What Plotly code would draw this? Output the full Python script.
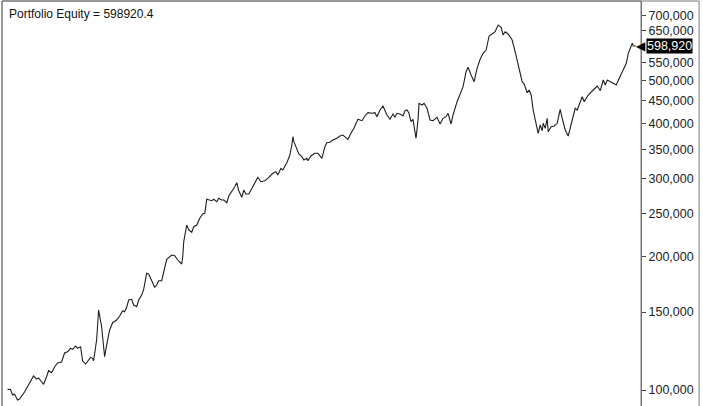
"""
Portfolio equity curve on a log scale, right-hand price axis
"""

import math
import plotly.graph_objects as go

# bar number (weekly bars) and closing equity
bar = [
    0, 3, 5, 7, 10, 12, 17, 22, 26, 29,
    31, 34, 36, 39, 41, 44, 47, 50, 54, 57,
    60, 63, 65, 68, 70, 73, 75, 78, 80, 83,
    85, 86, 89, 91, 94, 97, 99, 102, 105, 107,
    109, 112, 115, 117, 119, 121, 124, 126, 129, 131,
    134, 136, 139, 141, 144, 147, 149, 151, 154, 156,
    159, 164, 167, 170, 174, 175, 176, 179, 181, 184,
    186, 189, 192, 195, 197, 199, 201, 204, 206, 209,
    211, 214, 216, 219, 221, 224, 227, 229, 231, 234,
    236, 238, 241, 245, 248, 250, 253, 257, 260, 265,
    268, 270, 273, 275, 279, 282, 284, 285, 286, 289,
    291, 294, 296, 299, 300, 303, 305, 307, 310, 314,
    317, 319, 322, 325, 329, 332, 335, 337, 340, 343,
    346, 350, 354, 357, 360, 364, 367, 369, 372, 375,
    377, 379, 382, 385, 387, 389, 392, 395, 397, 399,
    401, 403, 405, 406, 408, 410, 411, 414, 416, 419,
    422, 425, 429, 432, 435, 438, 440, 443, 445, 449,
    452, 455, 458, 460, 463, 466, 469, 472, 475, 478,
    481, 485, 487, 490, 493, 495, 497, 500, 504, 507,
    510, 514, 516, 519, 521, 523, 525, 528, 530, 532,
    534, 535, 537, 539, 540, 543, 546, 549, 552, 554,
    557, 560, 563, 567, 569, 574, 576, 580, 585, 589,
    592, 595, 597, 599, 604, 608, 611, 615, 618, 620,
    624, 625, 628,
]

equity = [
    100360, 100300, 97430, 97940, 94930, 95430, 98970, 103710, 107560, 105890,
    106440, 104410, 103010, 107160, 110560, 109420, 112710, 115080, 115680, 121230,
    122050, 124230, 123580, 125720, 124230, 125260, 116290, 114480, 116290, 118540,
    117930, 116470, 129710, 151620, 139000, 118910, 126380, 136640, 141920, 142660,
    143930, 146960, 151070, 150290, 153760, 159710, 160290, 155610, 154240, 159710,
    163920, 168860, 183520, 182850, 177230, 170620, 172680, 176590, 176590, 186000,
    197380, 201840, 201110, 196660, 192620, 200070, 216300, 235940, 229880, 227150,
    233860, 235940, 244310, 249830, 250740, 269690, 268710, 267730, 269690, 266340,
    271100, 268710, 268710, 264960, 274360, 280570, 287960, 294020, 282030, 272510,
    283060, 277230, 277230, 287960, 298170, 302390, 295550, 297090, 300820, 308750,
    311340, 306030, 316890, 314100, 326260, 339600, 357730, 373520, 363930, 349810,
    341370, 336610, 330880, 333820, 329680, 337830, 339600, 342610, 342610, 333820,
    354580, 362040, 363000, 367160, 370420, 374880, 376830, 373520, 368500, 380180,
    390200, 408910, 405940, 415990, 423190, 421870, 423190, 414480, 429180, 438200,
    429180, 418160, 408910, 420340, 413190, 421870, 420340, 415990, 427620, 429180,
    421870, 403830, 408910, 396960, 370420, 407420, 444400, 440490, 444400, 432990,
    407420, 405940, 413190, 399030, 411040, 414480, 421870, 399030, 418160, 448120,
    468130, 484480, 523800, 535930, 514890, 497250, 533150, 558710, 576430, 586410,
    630710, 641630, 644980, 667860, 659910, 634000, 644980, 637310, 617710, 581240,
    547210, 497250, 491330, 469590, 476240, 464010, 429180, 396960, 380180, 396960,
    385350, 400490, 390200, 411040, 383360, 393460, 394900, 400490, 430750, 411040,
    386750, 374880, 396960, 432990, 429180, 459930, 448120, 464010, 476240, 486250,
    474510, 501660, 488790, 501660, 494670, 488790, 506120, 530380, 547210, 576430,
    607200, 598730, 598920.4,
]

tick_values = [100000, 150000, 200000, 250000, 300000, 350000, 400000,
               450000, 500000, 550000, 650000, 700000]

assert len(bar) == len(equity)

last_value = equity[-1]
FONT = "Arial, Liberation Sans, sans-serif"

fig = go.Figure()
fig.add_trace(
    go.Scatter(
        x=bar,
        y=equity,
        mode='lines',
        line=dict(color='#1e1e1e', width=1.1),
        showlegend=False,
        hoverinfo='skip'
    )
)

fig.update_layout(
    width=703,
    height=406,
    margin=dict(l=2, r=62, t=1, b=0),
    paper_bgcolor='white',
    plot_bgcolor='white',
    font=dict(family=FONT, size=13, color='#222222'),
    showlegend=False
)

fig.update_xaxes(
    range=[-5.5, 632.7],
    showgrid=False,
    zeroline=False,
    showticklabels=False,
    showline=False,
    ticks='',
    automargin=False
)

fig.update_yaxes(
    type='log',
    range=[4.9639, 5.8789],
    side='right',
    tickvals=tick_values,
    tickformat=',.0f',
    ticks='outside',
    ticklen=4,
    tickcolor='#444444',
    tickfont=dict(size=12.5),
    showline=True,
    linecolor='#777777',
    linewidth=1,
    showgrid=False,
    zeroline=False,
    automargin=False
)

# frame around the plot area and around the whole chart panel
fig.add_shape(type='rect', xref='paper', yref='paper', x0=0, x1=1, y0=-0.05, y1=1,
              line=dict(color='#777777', width=1))
fig.add_shape(type='rect', xref='paper', yref='paper', x0=0, x1=1.0909, y0=-0.05, y1=1,
              line=dict(color='#777777', width=1))

# title text in the top-left corner
fig.add_annotation(
    xref='paper', yref='paper', x=0, y=1,
    xanchor='left', yanchor='top', xshift=5, yshift=-4,
    text=f"Portfolio Equity = {last_value}",
    showarrow=False,
    font=dict(family=FONT, size=12, color='#111111')
)

# last value flag on the price axis
fig.add_annotation(
    xref='paper', yref='y', x=1, y=math.log10(last_value),
    xanchor='right', xshift=6,
    text='◀', showarrow=False, borderpad=0,
    font=dict(family='DejaVu Sans', size=12, color='black')
)
fig.add_annotation(
    xref='paper', yref='y', x=1, y=math.log10(last_value),
    xanchor='left', xshift=5,
    text=f"{last_value:,.0f}", showarrow=False,
    bgcolor='black', borderpad=0,
    font=dict(family=FONT, size=12.5, color='white')
)

# drop the default page margin so the chart sits at the window's corner
fig.write_html(
    "out.html",
    config={'displayModeBar': False},
    post_script="document.body.style.margin='0';"
)
